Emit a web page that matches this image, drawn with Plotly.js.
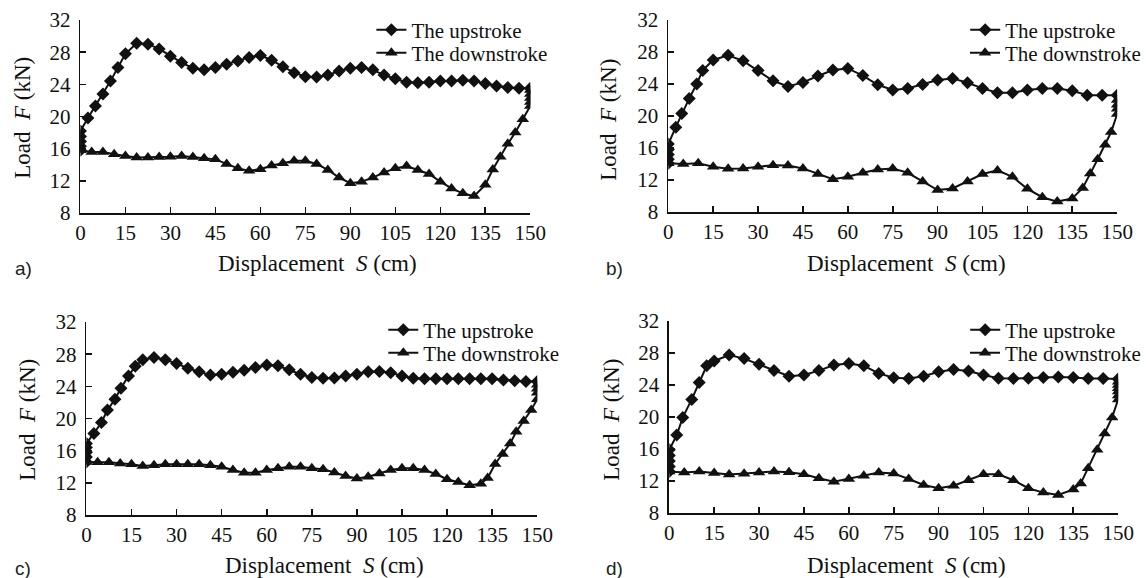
<!DOCTYPE html>
<html>
<head>
<meta charset="utf-8">
<script src="https://cdn.plot.ly/plotly-3.0.1.min.js"></script>
<style>html,body{margin:0;padding:0;background:#fff;}#chart{width:1146px;height:578px;}</style>
</head>
<body>
<div id="chart"></div>
<script>
// ---- Data ----
const panelLabels = ["a)", "b)", "c)", "d)"];
const seriesNames = ["The upstroke", "The downstroke"];
const xTicks = [0, 15, 30, 45, 60, 75, 90, 105, 120, 135, 150];
const yTicks = [8, 12, 16, 20, 24, 28, 32];

// Panel a
const aUpX = [0,0,0,0,0,2.5,5,7.5,10,12.5,15,18.75,22.5,26.25,30,33.75,37.5,41.25,45,48.75,52.5,56.25,60,63.75,67.5,71.25,75,78.75,82.5,86.25,90,93.75,97.5,101.25,105,108.75,112.5,116.25,120,123.75,127.5,131.25,135,138.75,142.5,146.25,150];
const aUpY = [15.8,16.3,16.9,17.5,18.2,19.8,21.3,22.8,24.4,26.1,27.8,29.1,29.0,28.4,27.5,26.7,26.0,25.8,26.1,26.5,26.9,27.35,27.6,27.0,26.2,25.45,24.95,24.9,25.15,25.65,26.0,26.1,25.8,25.15,24.7,24.25,24.2,24.25,24.4,24.4,24.5,24.4,24.1,23.8,23.6,23.5,23.5];
const aDnX = [150,150,150,150,150,147.5,145,142.5,140,137.5,135,131.25,127.5,123.75,120,116.25,112.5,108.75,105,101.25,97.5,93.75,90,86.25,82.5,78.75,75,71.25,67.5,63.75,60,56.25,52.5,48.75,45,41.25,37.5,33.75,30,26.25,22.5,18.75,15,11.25,7.5,3.75,0];
const aDnY = [23.3,22.8,22.3,21.8,21.3,19.65,18.0,16.6,15.0,13.4,11.5,10.1,10.45,11.05,11.9,12.85,13.35,13.85,13.55,13.05,12.4,11.9,11.7,12.4,13.35,14.1,14.5,14.5,14.2,13.9,13.45,13.26,13.55,14.1,14.67,14.8,14.95,15.1,15.0,14.95,14.9,14.9,15.1,15.3,15.6,15.6,15.8];

// Panel b
const bUpX = [0,0,0,0,0,2.5,4.5,7,9.5,11.5,15,20,25,30,35,40,45,50,55,60,65,70,75,80,85,90,95,100,105,110,115,120,125,130,135,140,145,150];
const bUpY = [14.1,14.6,15.2,15.8,16.5,18.6,20.3,22.2,24.0,25.7,27.0,27.6,26.9,25.7,24.4,23.7,24.2,25.0,25.75,25.95,25.05,23.9,23.25,23.45,23.95,24.5,24.7,24.15,23.45,22.9,22.9,23.25,23.45,23.45,23.15,22.6,22.6,22.6];
const bDnX = [150,150,150,150,148,146,143.5,141,138.5,135,130,125,120,115,110,105,100,95,90,85,80,75,70,65,60,55,50,45,40,35,30,25,20,15,10,5,0];
const bDnY = [22.0,21.4,20.9,20.25,18.0,16.4,14.6,12.8,11.0,9.7,9.3,9.85,10.9,12.4,13.2,12.75,11.8,10.95,10.75,11.8,12.9,13.45,13.3,12.9,12.4,12.1,12.75,13.45,13.8,13.85,13.65,13.45,13.4,13.65,14.1,14.0,14.1];

// Panel c
const cUpX = [0,0,0,0,0,2.5,5,7,9.5,11.5,14,16.25,18.75,22.5,26.25,30,33.75,37.5,41.25,45,48.75,52.5,56.25,60,63.75,67.5,71.25,75,78.75,82.5,86.25,90,93.75,97.5,101.25,105,108.75,112.5,116.25,120,123.75,127.5,131.25,135,138.75,142.5,146.25,150];
const cUpY = [14.6,15.2,15.8,16.4,16.9,18.15,19.5,21.05,22.4,23.75,25.3,26.5,27.3,27.6,27.3,26.85,26.25,25.8,25.4,25.5,25.75,26.0,26.35,26.65,26.55,26.05,25.5,25.1,25.0,25.05,25.3,25.5,25.8,25.85,25.7,25.3,25.0,24.95,24.95,24.95,24.95,24.95,24.95,24.95,24.8,24.7,24.6,24.6];
const cDnX = [150,150,150,150,148,145.5,143,141,138.5,136,133.5,131.25,127.5,123.75,120,116.25,112.5,108.75,105,101.25,97.5,93.75,90,86.25,82.5,78.75,75,71.25,67.5,63.75,60,56.25,52.5,48.75,45,41.25,37.5,33.75,30,26.25,22.5,18.75,15,11.25,7.5,3.75,0];
const cDnY = [24.2,23.7,23.2,22.4,21.05,19.7,18.35,16.9,15.6,14.35,12.6,11.9,11.7,12.1,12.45,13.1,13.6,13.8,13.8,13.6,13.15,12.75,12.55,12.85,13.3,13.7,13.8,14.0,14.0,13.8,13.6,13.25,13.25,13.6,14.0,14.2,14.3,14.3,14.3,14.3,14.2,14.1,14.3,14.4,14.55,14.55,14.6];

// Panel d
const dUpX = [0,0,0,0,0,2.5,4.5,7.5,10,12.5,15,20,25,30,35,40,45,50,55,60,65,70,75,80,85,90,95,100,105,110,115,120,125,130,135,140,145,150];
const dUpY = [13.2,13.8,14.5,15.2,15.9,17.75,19.95,22.2,24.3,26.4,27.0,27.75,27.3,26.6,25.8,25.1,25.25,25.8,26.5,26.7,26.4,25.45,24.9,24.8,25.1,25.65,25.95,25.75,25.25,24.85,24.8,24.85,24.95,25.0,24.95,24.8,24.8,24.75];
const dDnX = [150,150,150,150,150,150,148,145.5,143,140,137.5,135,130,125,120,115,110,105,100,95,90,85,80,75,70,65,60,55,50,45,40,35,30,25,20,15,10,5,0];
const dDnY = [24.4,24.0,23.6,23.2,22.7,22.2,19.95,17.95,15.9,13.6,11.7,10.95,10.25,10.55,11.1,12.1,12.85,12.85,12.1,11.4,11.1,11.5,12.25,12.95,13.05,12.65,12.25,11.9,12.35,12.85,13.1,13.2,13.05,12.9,12.8,13.0,13.2,13.05,13.2];

const panels = [
  {up:[aUpX,aUpY], dn:[aDnX,aDnY]},
  {up:[bUpX,bUpY], dn:[bDnX,bDnY]},
  {up:[cUpX,cUpY], dn:[cDnX,cDnY]},
  {up:[dUpX,dUpY], dn:[dDnX,dDnY]}
];

// ---- Layout geometry (pixels) ----
const W = 1146, H = 578;
const boxes = [ // left, right, top, bottom in px
  {l:81, r:534, t:20, b:213},
  {l:673, r:1125, t:20, b:212},
  {l:87, r:541, t:322, b:515},
  {l:674, r:1126, t:321, b:513}
];
const legendPos = [{x:374,y:30},{x:972,y:30},{x:386,y:330},{x:972,y:330}]; // line start x, first row centre y
const rowGap = 23;
const xTitlePos = [{x:320,y:263},{x:913,y:263},{x:327,y:565},{x:913,y:565}];
const yTitlePos = [{x:22,y:118},{x:613,y:120},{x:27,y:420},{x:615,y:420}];
const labelPos = [{x:13,y:268},{x:608,y:268},{x:13,y:568},{x:608,y:568}];

const serif = "Liberation Serif";
const traces = [];
const layout = {
  width: W, height: H,
  margin: {l:0, r:0, t:0, b:0},
  paper_bgcolor: "#fff", plot_bgcolor: "#fff",
  font: {family: serif, color: "#000", size: 19},
  annotations: [],
  showlegend: true
};

panels.forEach((p, i) => {
  const n = i === 0 ? "" : String(i + 1);
  const lgUp = i === 0 ? "legend" : "legend" + (2 * i + 1);
  const lgDn = "legend" + (2 * i + 2);
  traces.push({
    x: p.up[0], y: p.up[1], xaxis: "x" + n, yaxis: "y" + n,
    type: "scatter", mode: "lines+markers", name: seriesNames[0], legend: lgUp,
    line: {color: "#111", width: 2},
    marker: {symbol: "diamond", size: 10, color: "#111"}
  });
  traces.push({
    x: p.dn[0], y: p.dn[1], xaxis: "x" + n, yaxis: "y" + n,
    type: "scatter", mode: "lines+markers", name: seriesNames[1], legend: lgDn,
    line: {color: "#111", width: 2},
    marker: {symbol: "triangle-up", size: 11, color: "#111"}
  });
  const b = boxes[i];
  layout["xaxis" + n] = {
    domain: [b.l / W, b.r / W], anchor: "y" + n,
    range: [0, 150], tickvals: xTicks, ticktext: xTicks.map(String),
    showgrid: false, zeroline: false, showline: true, linecolor: "#111", linewidth: 1.8,
    ticks: "inside", ticklen: 6, tickwidth: 1.6, tickcolor: "#111",
    tickfont: {family: serif, size: 21, color: "#111"}, fixedrange: true
  };
  layout["yaxis" + n] = {
    domain: [1 - b.b / H, 1 - b.t / H], anchor: "x" + n,
    range: [8, 32], tickvals: yTicks, ticktext: yTicks.map(String),
    showgrid: false, zeroline: false, showline: true, linecolor: "#111", linewidth: 1.8,
    ticks: "inside", ticklen: 6, tickwidth: 1.6, tickcolor: "#111",
    ticklabelstandoff: 4,
    tickfont: {family: serif, size: 21, color: "#111"}, fixedrange: true
  };
  [lgUp, lgDn].forEach((lg, k) => {
    layout[lg] = {
      x: legendPos[i].x / W, y: 1 - (legendPos[i].y + k * rowGap) / H,
      xanchor: "left", yanchor: "middle",
      bgcolor: "rgba(0,0,0,0)", borderwidth: 0, itemwidth: 30,
      font: {family: serif, size: 21, color: "#111"}
    };
  });
  layout.annotations.push({
    xref: "paper", yref: "paper", x: xTitlePos[i].x / W, y: 1 - xTitlePos[i].y / H,
    xanchor: "center", yanchor: "middle", showarrow: false,
    text: "Displacement  <i>S</i> (cm)", font: {family: serif, size: 23, color: "#111"}
  });
  layout.annotations.push({
    xref: "paper", yref: "paper", x: yTitlePos[i].x / W, y: 1 - yTitlePos[i].y / H,
    xanchor: "center", yanchor: "middle", showarrow: false, textangle: -90,
    text: "Load  <i>F</i> (kN)", font: {family: serif, size: 23, color: "#111"}
  });
  layout.annotations.push({
    xref: "paper", yref: "paper", x: labelPos[i].x / W, y: 1 - labelPos[i].y / H,
    xanchor: "left", yanchor: "middle", showarrow: false,
    text: panelLabels[i], font: {family: "Liberation Sans", size: 19, color: "#222"}
  });
});

Plotly.newPlot("chart", traces, layout, {displayModeBar: false, staticPlot: true});
</script>
</body>
</html>
